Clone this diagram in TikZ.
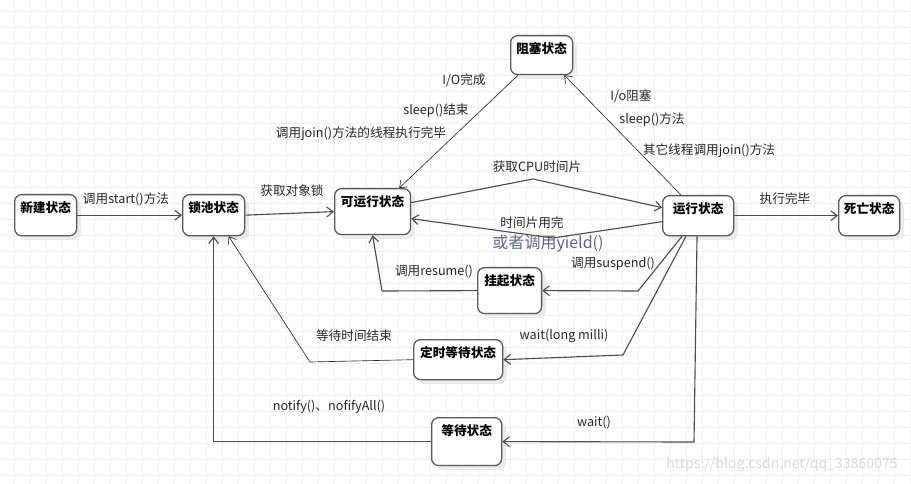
\documentclass[tikz,border=0pt]{standalone}
\usepackage{fontspec}
\setmainfont{Noto Sans CJK SC}
\usepackage{xcolor}
\usetikzlibrary{arrows.meta,shadows}
\definecolor{yieldblue}{RGB}{84,104,140}

\begin{document}
\begin{tikzpicture}[
    x=0.025cm, y=-0.025cm,
    state/.style={draw=black!65, line width=0.9pt, rounded corners=5pt, fill=white,
                  font=\fontsize{9}{10}\selectfont\bfseries, anchor=north west,
                  inner xsep=0pt, inner ysep=0pt, text height=12.5pt, text depth=16.7pt,
                  drop shadow={shadow xshift=3pt, shadow yshift=-3pt, fill=black!8, opacity=1}},
    lbl/.style={font=\fontsize{9}{10}\selectfont, text=black!85, inner sep=0pt},
    arr/.style={-{Straight Barb[length=4.5pt, width=7pt]}, draw=black!70, line width=0.8pt},
    slim/.style={-{Straight Barb[length=4.5pt, width=7pt]}, draw=black!85, line width=0.45pt}
  ]
  \useasboundingbox (0,0) rectangle (911,484);
  % grid
  \foreach \gx in {-2,14,...,910} \draw[black!6, line width=0.6pt] (\gx,0) -- (\gx,484);
  \foreach \gy in {-4.5,11.5,...,484} \draw[black!6, line width=0.6pt] (0,\gy) -- (911,\gy);

  % states
  \node[state, minimum width=44.1pt] (new) at (14,194) {新建状态};
  \node[state, minimum width=44.1pt] (lockpool) at (182,194) {锁池状态};
  \node[state, minimum width=54pt, text depth=20.2pt] (runnable) at (334,188) {可运行状态};
  \node[state, minimum width=50.5pt, text depth=16pt] (running) at (662,195) {运行状态};
  \node[state, minimum width=43.4pt, text depth=16pt] (dead) at (838,195) {死亡状态};
  \node[state, minimum width=44.1pt, text depth=15.2pt] (blocked) at (510,35) {阻塞状态};
  \node[state, minimum width=45.5pt, text depth=20.2pt] (suspended) at (477,267) {挂起状态};
  \node[state, minimum width=63.3pt, text depth=16pt] (timedwait) at (413,339) {定时等待状态};
  \node[state, minimum width=49.8pt, text depth=21.6pt] (waiting) at (431,417) {等待状态};

  % main row
  \draw[arr] (new) -- (lockpool);
  \draw[arr] (lockpool.east) -- (runnable.west);
  \coordinate (cpuTop) at (533,179);
  \draw[arr] ([yshift=6.4pt]runnable.east) -- (cpuTop) -- ([yshift=5.7pt]running.west);
  \coordinate (yieldLow) at (553,238);
  \draw[arr] ([yshift=-4.3pt]running.west) -- (yieldLow) -- ([yshift=-5pt]runnable.east);
  \draw[arr] (running) -- (dead);

  % blocked
  \draw[slim] ([xshift=5.7pt]blocked.south west) -- ([xshift=-8.5pt]runnable.north east);
  \draw[slim] ([xshift=13.5pt]running.north west) -- ([xshift=-6.4pt]blocked.south east);

  % down from running
  \coordinate (suspendBend) at (638,291);
  \draw[arr] ([xshift=14.2pt]running.south west) -- (suspendBend) -- (suspended.east);
  \coordinate (timedBend) at (623,355);
  \draw[arr] ([xshift=17pt]running.south west) -- (timedBend) -- (timedwait.east);
  \coordinate (waitBend) at (694,442);
  \draw[arr] ([xshift=24.9pt]running.south west) -- (waitBend) -- (waiting.east);

  % back to runnable / lock pool
  \coordinate (resumeBend) at (382,291);
  \draw[arr] (suspended.west) -- (resumeBend) -- (runnable.south);
  \coordinate (lockBend) at (310,362);
  \draw[slim] (timedwait.west) -- (lockBend) -- ([xshift=10.7pt]lockpool.south);
  \draw[arr] (waiting.west) -| (lockpool.south);

  % labels
  \node[lbl] (lStart) at (126,199) {调用start()方法};
  \node[lbl] (lObjLock) at (292,191) {获取对象锁};
  \node[lbl] (lCpu) at (537,167) {获取CPU时间片};
  \node[lbl] (lSlice) at (532,223) {时间片用完};
  \node[lbl, font=\fontsize{11.4}{13}\selectfont, text=yieldblue] (lYield) at (548,244) {或者调用yield()};
  \node[lbl] (lIoDone) at (464,80) {I/O完成};
  \node[lbl] (lSleepEnd) at (436,111) {sleep()结束};
  \node[lbl] (lJoinDone) at (361,134) {调用join()方法的线程执行完毕};
  \node[lbl] (lIoBlock) at (631,96) {I/o阻塞};
  \node[lbl] (lSleep) at (652,120) {sleep()方法};
  \node[lbl] (lJoin) at (709,151) {其它线程调用join()方法};
  \node[lbl] (lFinish) at (785,199) {执行完毕};
  \node[lbl] (lResume) at (434,272) {调用resume()};
  \node[lbl] (lSuspend) at (613,264) {调用suspend()};
  \node[lbl] (lTimeout) at (354,336) {等待时间结束};
  \node[lbl] (lWaitMs) at (564,336) {wait(long milli)};
  \node[lbl] (lNotify) at (329,407) {notify()、nofifyAll()};
  \node[lbl] (lWait) at (594,423) {wait()};
  \node[lbl, font=\fontsize{10}{12}\selectfont, text=black!15] (mark) at (782,465) {https://blog.csdn.net/qq\_33860075};
\end{tikzpicture}
\end{document}
